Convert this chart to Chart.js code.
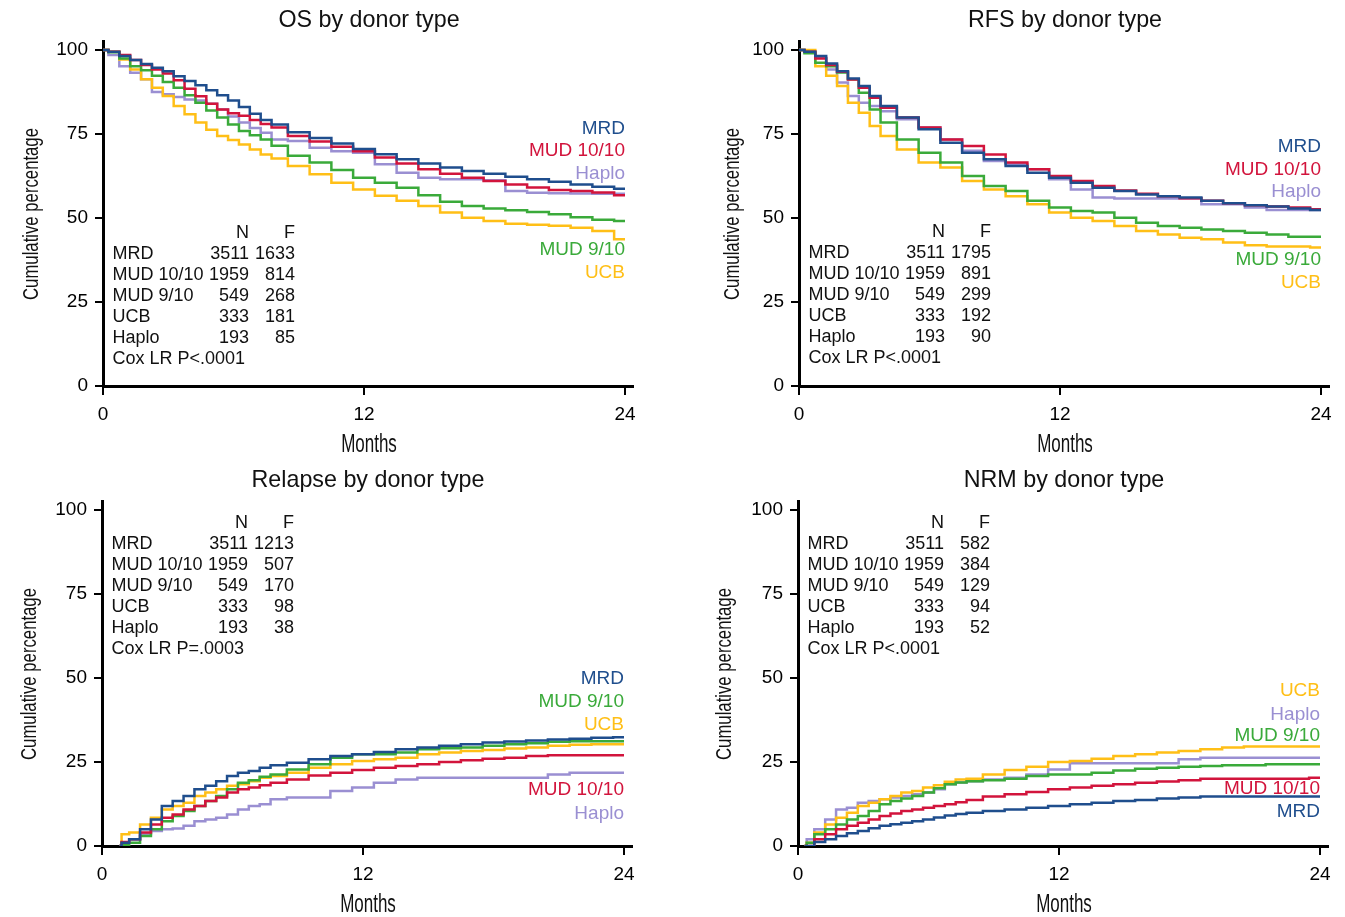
<!DOCTYPE html>
<html>
<head>
<meta charset="utf-8">
<script src="https://cdn.jsdelivr.net/npm/chart.js@4.4.1/dist/chart.umd.min.js"></script>
<style>
  body { margin: 0; background: #fff; width: 1345px; height: 917px; position: relative; overflow: hidden; }
  canvas { position: absolute; }
</style>
</head>
<body>
<canvas id="os"></canvas>
<canvas id="rfs"></canvas>
<canvas id="rel"></canvas>
<canvas id="nrm"></canvas>
<script>
// ---- data ----
const groups = ["MRD", "MUD 10/10", "MUD 9/10", "UCB", "Haplo"];
const nCounts = [3511, 1959, 549, 333, 193];
const xTicks = [0, 12, 24];
const yTicks = [0, 25, 50, 75, 100];

// OS
const osMonths = [0, 0.5, 1, 1.5, 2, 2.5, 3, 3.5, 4, 4.5, 5, 5.5, 6, 6.5, 7, 7.5, 8, 9, 10, 11, 12, 13, 14, 15, 16, 17, 18, 19, 20, 21, 22, 23, 24];
const osMRD   = [100, 99.5, 98.2, 97, 95.8, 94.7, 93.7, 92.2, 90.8, 89.5, 88, 86.5, 85, 83, 81, 79.2, 77.8, 75.5, 73.8, 72.2, 70.5, 69, 67.5, 66.2, 65, 64, 63.2, 62.3, 61.5, 60.8, 60, 59.3, 58.7];
const osMUD10 = [100, 99.5, 98.5, 97, 95.5, 94.2, 93, 91, 88.5, 86.2, 84, 82.3, 81.2, 80.4, 79.2, 78, 76.9, 74.4, 72.8, 71.2, 69.9, 68, 66.2, 64.5, 63.2, 62, 61, 60, 59.1, 58.3, 58, 57.6, 56.8];
const osMUD9  = [100, 99.3, 97.5, 95.2, 94, 92.3, 90.5, 88.8, 86.5, 84.3, 82, 79.9, 77.8, 75.9, 74.6, 73.4, 71.5, 68.5, 66.5, 64.3, 62, 60.5, 59, 56.8, 54.8, 53.6, 52.8, 52.3, 51.8, 51.1, 50.2, 49.5, 49.1];
const osUCB   = [100, 99.5, 97.2, 94.2, 91.3, 88.8, 86.3, 83.3, 80.9, 78.4, 76.3, 74.4, 73.2, 71.9, 70.4, 68.9, 67.7, 65.5, 63, 60.5, 58.5, 56.6, 55.1, 53.6, 51.6, 50.1, 49.1, 48.3, 48, 47.7, 47.1, 46.1, 43.7];
const osHaplo = [100, 98.5, 95.2, 93.2, 91.3, 87.5, 86.8, 86, 85.3, 85, 84, 82.3, 80.2, 78.4, 76.8, 75.4, 73.4, 72.9, 70.9, 69.9, 69.4, 66, 63.5, 62, 61.5, 61.5, 61.2, 58, 57.5, 57.4, 57.3, 57.2, 57.2];
const osEvents = [1633, 814, 268, 181, 85];

// RFS
const rfsMonths = [0, 0.5, 1, 1.5, 2, 2.5, 3, 3.5, 4, 5, 6, 7, 8, 9, 10, 11, 12, 13, 14, 15, 16, 17, 18, 19, 20, 21, 22, 23, 24];
const rfsMRD   = [100, 99.5, 98.2, 96, 93.7, 91.5, 89.3, 86.3, 83.3, 79.9, 76.4, 72.4, 69.4, 67.5, 65.5, 63.5, 62, 60.5, 59, 58, 57, 56.5, 56.1, 55.1, 54.4, 53.8, 53.4, 52.8, 52.4];
const rfsMUD10 = [100, 99.5, 97.5, 95.5, 93.5, 91.2, 88.8, 85.8, 82.8, 79.9, 76.9, 73.4, 71.4, 68.9, 66.5, 64.5, 62.5, 61, 59.5, 58.2, 57.2, 56.5, 55.9, 55.1, 54.4, 53.8, 53.4, 53.1, 52.6];
const rfsMUD9  = [100, 99, 96.2, 95.2, 93.3, 91.3, 87.3, 82.3, 78.4, 73.4, 69.4, 66.5, 62.5, 59.5, 58, 55.1, 53.1, 52.1, 51.6, 50.1, 48.6, 47.6, 47.1, 46.6, 46.1, 45.6, 45.1, 44.4, 44.4];
const rfsUCB   = [100, 100, 95.2, 92.3, 89.3, 84.3, 81.3, 77.4, 74.4, 70.4, 66.5, 65, 61, 58.5, 56.5, 54.1, 51.6, 50.1, 49.1, 47.6, 46.1, 45.1, 44.1, 43.7, 42.7, 41.9, 41.5, 41.5, 41.2];
const rfsHaplo = [100, 99.5, 97.7, 94.2, 90.3, 86.3, 84.3, 83.3, 81.8, 79.4, 76.9, 73.4, 70, 67, 66, 64.5, 61.5, 58.5, 56.1, 55.8, 55.8, 55.8, 55.8, 54.1, 54.1, 53.1, 52.4, 52.4, 52.4];
const rfsEvents = [1795, 891, 299, 192, 90];

// Relapse
const relMonths = [0.8, 1, 1.5, 2, 2.5, 3, 3.5, 4, 4.5, 5, 5.5, 6, 6.5, 7, 7.5, 8, 9, 10, 11, 12, 13, 14, 15, 16, 17, 18, 19, 20, 21, 22, 23, 24];
const relMRD   = [0, 1, 2, 5, 7.9, 11.9, 13.4, 14.9, 16.9, 17.9, 19.3, 20.8, 21.8, 22.3, 23.3, 24, 24.8, 25.8, 26.8, 27.3, 28, 28.8, 29.3, 29.8, 30.3, 30.8, 31.1, 31.4, 31.7, 31.9, 32.2, 32.4];
const relMUD10 = [0, 1.2, 2, 4, 6.4, 8.4, 9.4, 10.9, 11.9, 13.4, 14.4, 15.9, 16.9, 17.4, 18.1, 18.8, 19.8, 21, 21.8, 22.6, 23.3, 23.8, 24.3, 25, 25.5, 26, 26.3, 26.8, 27, 27, 27, 27];
const relMUD9  = [0, 0.3, 1, 3, 5, 7.4, 8.9, 10.4, 11.9, 13.4, 14.9, 16.9, 18.8, 19.6, 20.6, 21.3, 22.8, 24.3, 26.3, 27.3, 27.3, 27.8, 28.8, 29.1, 29.3, 29.8, 30.3, 30.6, 31, 31.2, 31.2, 31.2];
const relUCB   = [0, 3.5, 4, 6.4, 8.4, 10.9, 11.9, 12.9, 14.9, 15.9, 16.9, 17.9, 18.4, 19.3, 20.3, 20.8, 21.8, 23.3, 24.3, 25.3, 25.8, 26.3, 27.3, 27.8, 28.3, 28.6, 29, 29.3, 29.8, 30.1, 30.3, 30.3];
const relHaplo = [0, 1, 2, 3.5, 4.5, 5, 5.2, 6, 7.4, 7.9, 8.4, 9.4, 10.9, 11.9, 12.4, 13.9, 14.4, 14.4, 16.4, 17.4, 18.8, 19.8, 20.3, 20.3, 20.3, 20.3, 20.3, 20.3, 21.3, 21.8, 21.8, 21.8];
const relEvents = [1213, 507, 170, 98, 38];

// NRM
const nrmMonths = [0.3, 0.5, 1, 1.5, 2, 2.5, 3, 3.5, 4, 4.5, 5, 5.5, 6, 6.5, 7, 7.5, 8, 9, 10, 11, 12, 13, 14, 15, 16, 17, 18, 19, 20, 21, 22, 23, 24];
const nrmMRD   = [0, 0, 1.2, 2, 3, 3.8, 4.5, 5.3, 6, 6.5, 6.9, 7.4, 7.9, 8.5, 9.1, 9.5, 9.9, 10.4, 10.9, 11.4, 11.9, 12.4, 12.9, 13.4, 13.7, 14.1, 14.4, 14.7, 14.7, 14.7, 14.7, 14.7, 14.7];
const nrmMUD10 = [0, 0, 2, 3.5, 5, 6, 6.9, 7.9, 8.9, 9.7, 10.4, 10.9, 11.4, 11.9, 12.4, 13, 13.7, 14.7, 15.4, 16.1, 16.9, 17.4, 17.9, 18.4, 18.8, 19.2, 19.6, 20, 20, 20, 20, 20, 20.3];
const nrmMUD9  = [0, 1, 3.5, 5, 6.4, 7.9, 8.9, 10.4, 12.4, 13.4, 14.1, 14.9, 15.9, 17.2, 18.4, 18.9, 19.3, 19.6, 20, 20.8, 21.3, 21.3, 21.8, 22.5, 23, 23.3, 23.6, 23.8, 24, 24, 24.3, 24.3, 24.3];
const nrmUCB   = [0, 1, 4, 6.4, 8.4, 9.9, 11.9, 12.9, 13.9, 14.9, 15.9, 16.4, 17.4, 18.1, 19.1, 19.8, 20, 21.3, 22.6, 23.6, 25, 25.3, 26, 26.8, 27.3, 27.8, 28.3, 28.8, 29.3, 29.6, 29.6, 29.6, 29.6];
const nrmHaplo = [0, 2, 5, 7.9, 10.9, 11.4, 12.9, 13.4, 13.9, 14.4, 14.9, 15.4, 15.9, 16.9, 18.4, 18.9, 19.3, 19.8, 20.3, 21.3, 22.8, 24.6, 24.6, 24.6, 24.6, 24.6, 25.8, 26.3, 26.3, 26.3, 26.3, 26.3, 26.3];
const nrmEvents = [582, 384, 129, 94, 52];

// ---- styling ----
const colors = {
    "MRD": "#1f4e8d",
    "MUD 10/10": "#d2143c",
    "MUD 9/10": "#3aaa3a",
    "UCB": "#ffbf17",
    "Haplo": "#9a8fd2"
};
const SANS = '"Liberation Sans", Arial, sans-serif';
const PX_PER_MONTH = 21.75;
const PX_PER_PCT = 3.36;
const X_MAX = 24.35;   // axis line runs a little past 24
const Y_MAX = 102.5;   // and a little above 100
const AXIS_Y = 386;    // canvas y of the x axis

const panels = [
    { id: "os", left: 0, top: 0, w: 672, h: 460, x0: 103, title: "OS by donor type",
      months: osMonths, series: [osMRD, osMUD10, osMUD9, osUCB, osHaplo], events: osEvents,
      pText: "Cox LR P<.0001", tableY: 232.7, yTitleX: 31.6,
      labels: ["MRD", "MUD 10/10", "Haplo", "MUD 9/10", "UCB"], labelY: [76.7, 70, 63.1, 40.5, 33.7] },
    { id: "rfs", left: 672, top: 0, w: 673, h: 460, x0: 127, title: "RFS by donor type",
      months: rfsMonths, series: [rfsMRD, rfsMUD10, rfsMUD9, rfsUCB, rfsHaplo], events: rfsEvents,
      pText: "Cox LR P<.0001", tableY: 231.7, yTitleX: 61,
      labels: ["MRD", "MUD 10/10", "Haplo", "MUD 9/10", "UCB"], labelY: [71.2, 64.5, 57.8, 37.5, 30.6] },
    { id: "rel", left: 0, top: 460, w: 672, h: 457, x0: 102, title: "Relapse by donor type",
      months: relMonths, series: [relMRD, relMUD10, relMUD9, relUCB, relHaplo], events: relEvents,
      pText: "Cox LR P=.0003", tableY: 63.3, yTitleX: 29.8,
      labels: ["MRD", "MUD 9/10", "UCB", "MUD 10/10", "Haplo"], labelY: [49.7, 42.8, 36, 16.7, 9.7] },
    { id: "nrm", left: 672, top: 460, w: 673, h: 457, x0: 126, title: "NRM by donor type",
      months: nrmMonths, series: [nrmMRD, nrmMUD10, nrmMUD9, nrmUCB, nrmHaplo], events: nrmEvents,
      pText: "Cox LR P<.0001", tableY: 63.3, yTitleX: 52.6,
      labels: ["UCB", "Haplo", "MUD 9/10", "MUD 10/10", "MRD"], labelY: [46.1, 39.2, 32.7, 16.9, 10.2] }
];

function drawText(ctx, text, x, y, font, color, align, sx, rotate) {
    ctx.save();
    ctx.translate(x, y);
    if (rotate) ctx.rotate(-Math.PI / 2);
    ctx.scale(sx, 1);
    ctx.font = font;
    ctx.fillStyle = color;
    ctx.textAlign = align;
    ctx.textBaseline = "middle";
    ctx.fillText(text, 0, 0);
    ctx.restore();
}

function panelTextPlugin(p) {
    return {
        id: "panelText",
        afterDraw(chart) {
            const ctx = chart.ctx;
            const xs = chart.scales.x, ys = chart.scales.y;
            const left = xs.getPixelForValue(0);
            const right = xs.getPixelForValue(24);
            const mid = (left + right) / 2 + 5;

            drawText(ctx, p.title, mid, 20.7, "24px " + SANS, "#111", "center", 0.97, false);
            drawText(ctx, "Months", mid, 445, "25px " + SANS, "#111", "center", 0.68, false);
            drawText(ctx, "Cumulative percentage", p.yTitleX, 214, "22px " + SANS, "#111", "center", 0.76, true);

            // N / F table
            const font = "18px " + SANS;
            const lx = left + 9.5, nx = left + 146, fx = left + 192;
            let y = p.tableY;
            drawText(ctx, "N", nx, y, font, "#111", "right", 1, false);
            drawText(ctx, "F", fx, y, font, "#111", "right", 1, false);
            groups.forEach((g, i) => {
                y += 21;
                drawText(ctx, g, lx, y, font, "#111", "left", 1, false);
                drawText(ctx, String(nCounts[i]), nx, y, font, "#111", "right", 1, false);
                drawText(ctx, String(p.events[i]), fx, y, font, "#111", "right", 1, false);
            });
            drawText(ctx, p.pText, lx, y + 21, font, "#111", "left", 1, false);

            // curve names at the right end
            p.labels.forEach((g, i) => {
                drawText(ctx, g, right, ys.getPixelForValue(p.labelY[i]), "19px " + SANS, colors[g], "right", 1, false);
            });
        }
    };
}

function makeChart(p) {
    const canvas = document.getElementById(p.id);
    canvas.width = p.w;
    canvas.height = p.h;
    canvas.style.left = p.left + "px";
    canvas.style.top = p.top + "px";

    // Kaplan-Meier style: step curves
    const datasets = groups.map((g, gi) => ({
        label: g,
        data: p.months.map((m, i) => ({ x: m, y: p.series[gi][i] })),
        borderColor: colors[g],
        borderWidth: 2.5,
        pointRadius: 0,
        fill: false,
        stepped: "middle"
    }));

    const axisCommon = {
        border: { display: true, width: 3, color: "#000" },
        ticks: { color: "#000", font: { family: SANS, size: 19 }, autoSkip: false, maxRotation: 0 }
    };

    new Chart(canvas, {
        type: "line",
        data: { datasets },
        options: {
            responsive: false,
            animation: false,
            layout: {
                padding: {
                    left: 0,
                    right: p.w - p.x0 - X_MAX * PX_PER_MONTH,
                    top: AXIS_Y - Y_MAX * PX_PER_PCT,
                    bottom: 0
                }
            },
            plugins: { legend: { display: false }, tooltip: { enabled: false } },
            scales: {
                x: {
                    ...axisCommon,
                    type: "linear",
                    min: 0,
                    max: X_MAX,
                    ticks: { ...axisCommon.ticks, padding: 8 },
                    grid: { display: true, drawOnChartArea: false, drawTicks: true, tickLength: 9, lineWidth: 2, tickWidth: 2, tickColor: "#000" },
                    afterBuildTicks: s => { s.ticks = xTicks.map(v => ({ value: v })); },
                    afterFit: s => { s.height = p.h - AXIS_Y; }
                },
                y: {
                    ...axisCommon,
                    min: 0,
                    max: Y_MAX,
                    ticks: { ...axisCommon.ticks, padding: 7 },
                    grid: { display: true, drawOnChartArea: false, drawTicks: true, tickLength: 8, lineWidth: 2, tickWidth: 2, tickColor: "#000" },
                    afterBuildTicks: s => { s.ticks = yTicks.map(v => ({ value: v })); },
                    afterFit: s => { s.width = p.x0; }
                }
            }
        },
        plugins: [panelTextPlugin(p)]
    });
}

panels.forEach(makeChart);
</script>
</body>
</html>
